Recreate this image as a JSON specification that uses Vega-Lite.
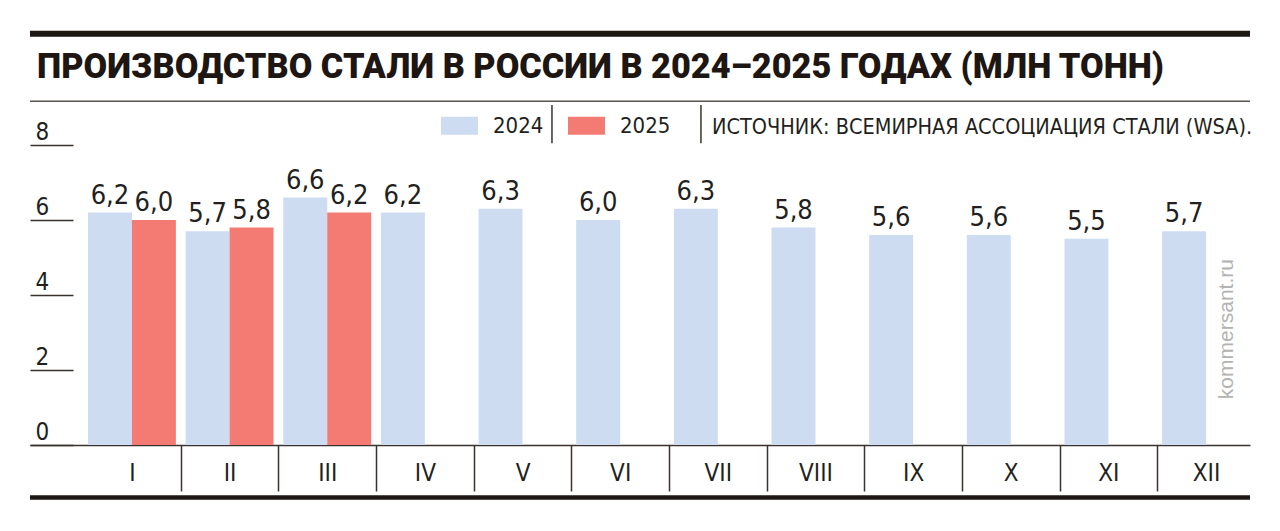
{
  "$schema": "https://vega.github.io/schema/vega-lite/v6.json",
  "width": 1220,
  "height": 300,
  "autosize": {"type": "none"},
  "padding": {"left": 30, "top": 145, "right": 30, "bottom": 86},
  "background": "white",
  "config": {
    "view": {"stroke": null},
    "locale": {"number": {"decimal": ",", "thousands": " ", "grouping": [3], "currency": ["", ""]}},
    "font": "DejaVu Sans Condensed, Liberation Sans Narrow, Roboto, sans-serif"
  },
  "title": {
    "text": "ПРОИЗВОДСТВО СТАЛИ В РОССИИ В 2024–2025 ГОДАХ (МЛН ТОНН)",
    "anchor": "start",
    "frame": "group",
    "dx": 7,
    "offset": -82,
    "baseline": "alphabetic",
    "font": "Roboto",
    "fontWeight": 900,
    "fontSize": 34.3,
    "color": "#1E1612"
  },
  "datasets": {
    "steel": [
      {"month": "I", "year": "2024", "value": 6.2},
      {"month": "I", "year": "2025", "value": 6.0},
      {"month": "II", "year": "2024", "value": 5.7},
      {"month": "II", "year": "2025", "value": 5.8},
      {"month": "III", "year": "2024", "value": 6.6},
      {"month": "III", "year": "2025", "value": 6.2},
      {"month": "IV", "year": "2024", "value": 6.2},
      {"month": "V", "year": "2024", "value": 6.3},
      {"month": "VI", "year": "2024", "value": 6.0},
      {"month": "VII", "year": "2024", "value": 6.3},
      {"month": "VIII", "year": "2024", "value": 5.8},
      {"month": "IX", "year": "2024", "value": 5.6},
      {"month": "X", "year": "2024", "value": 5.6},
      {"month": "XI", "year": "2024", "value": 5.5},
      {"month": "XII", "year": "2024", "value": 5.7}
    ]
  },
  "data": {"name": "steel"},
  "layer": [
    {
      "mark": {"type": "bar"},
      "encoding": {
        "x": {
          "field": "month",
          "type": "nominal",
          "sort": null,
          "scale": {
            "domain": ["I", "II", "III", "IV", "V", "VI", "VII", "VIII", "IX", "X", "XI", "XII"],
            "paddingInner": 0.1,
            "paddingOuter": 0.297,
            "align": 1
          },
          "axis": {
            "title": null,
            "domain": true,
            "domainColor": "#3a322e",
            "domainWidth": 1.5,
            "ticks": true,
            "bandPosition": 0,
            "tickOffset": -4.9,
            "tickSize": 46,
            "tickWidth": 1.5,
            "tickColor": {"condition": {"test": "datum.value === 'I'", "value": "rgba(0,0,0,0)"}, "value": "#3a322e"},
            "labelOffset": 4.9,
            "labelPadding": -18,
            "labelBaseline": "middle",
            "labelAngle": 0,
            "labelFontSize": 24,
            "labelColor": "#231F20",
            "grid": false
          }
        },
        "xOffset": {
          "field": "year",
          "type": "nominal",
          "scale": {"domain": ["2024", "2025"], "paddingInner": 0, "paddingOuter": 0}
        },
        "y": {
          "field": "value",
          "type": "quantitative",
          "scale": {"domain": [0, 8], "nice": false},
          "axis": {
            "title": null,
            "domain": false,
            "values": [0, 2, 4, 6, 8],
            "tickSize": -43,
            "tickWidth": 1.5,
            "tickColor": "#3a322e",
            "labelAlign": "left",
            "labelBaseline": "alphabetic",
            "labelOffset": -6,
            "labelPadding": 38,
            "labelFontSize": 24,
            "labelColor": "#231F20",
            "grid": false
          }
        },
        "color": {
          "field": "year",
          "type": "nominal",
          "scale": {"domain": ["2024", "2025"], "range": ["#CDDCF0", "#F47B73"]},
          "legend": {
            "title": null,
            "orient": "none",
            "legendX": 411,
            "legendY": -38,
            "direction": "horizontal",
            "symbolType": "M-1,-0.49H1V0.49H-1Z",
            "symbolSize": 1369,
            "symbolStrokeWidth": 0,
            "symbolOpacity": 1,
            "labelFontSize": 22,
            "labelColor": "#231F20",
            "labelOffset": 15,
            "columnPadding": 24
          }
        }
      }
    },
    {
      "mark": {"type": "text", "baseline": "alphabetic", "dy": -9, "fontSize": 27, "color": "#231F20"},
      "encoding": {
        "x": {"field": "month", "type": "nominal", "sort": null},
        "xOffset": {"field": "year", "type": "nominal"},
        "y": {"field": "value", "type": "quantitative"},
        "text": {"field": "value", "type": "quantitative", "format": ".1f"}
      }
    },
    {
      "data": {"values": [{}]},
      "mark": {"type": "rule", "color": "#1E1612", "strokeWidth": 6},
      "encoding": {"y": {"datum": 10.97, "type": "quantitative"}}
    },
    {
      "data": {"values": [{}]},
      "mark": {"type": "rule", "color": "#5a524d", "strokeWidth": 1.5},
      "encoding": {"y": {"datum": 9.17, "type": "quantitative"}}
    },
    {
      "data": {"values": [{}]},
      "mark": {"type": "rule", "color": "#1E1612", "strokeWidth": 4.5},
      "encoding": {"y": {"datum": -1.4, "type": "quantitative"}}
    },
    {
      "data": {"values": [{}]},
      "mark": {"type": "rule", "color": "#3a322e", "strokeWidth": 1.5},
      "encoding": {
        "x": {"datum": "V", "type": "nominal", "bandPosition": 0.835},
        "y": {"datum": 9.07, "type": "quantitative"},
        "y2": {"datum": 8.05}
      }
    },
    {
      "data": {"values": [{}]},
      "mark": {"type": "rule", "color": "#3a322e", "strokeWidth": 1.5},
      "encoding": {
        "x": {"datum": "VII", "type": "nominal", "bandPosition": 0.308},
        "y": {"datum": 9.07, "type": "quantitative"},
        "y2": {"datum": 8.05}
      }
    },
    {
      "data": {"values": [{}]},
      "mark": {"type": "text", "align": "left", "baseline": "alphabetic", "fontSize": 21.5, "color": "#231F20"},
      "encoding": {
        "x": {"datum": "VII", "type": "nominal", "bandPosition": 0.434},
        "y": {"datum": 8.29, "type": "quantitative"},
        "text": {"value": "ИСТОЧНИК: ВСЕМИРНАЯ АССОЦИАЦИЯ СТАЛИ (WSA)."}
      }
    },
    {
      "data": {"values": [{}]},
      "mark": {"type": "text", "angle": 270, "align": "center", "baseline": "middle", "fontSize": 21, "font": "Liberation Sans", "color": "#B3B3B3"},
      "encoding": {
        "x": {"datum": "XII", "type": "nominal", "bandPosition": 0.737},
        "y": {"datum": 3.09, "type": "quantitative"},
        "text": {"value": "kommersant.ru"}
      }
    }
  ]
}
